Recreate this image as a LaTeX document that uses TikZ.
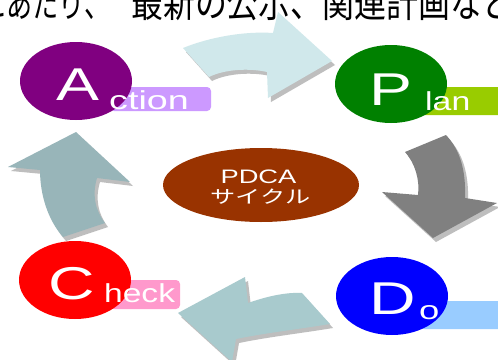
\documentclass[tikz,border=0pt]{standalone}
\usepackage{fontspec}
\usepackage{graphicx}
\setmainfont{Liberation Sans}
\newfontfamily\jpfont[Kerning=Off]{Noto Sans CJK JP}
\usetikzlibrary{shapes.geometric}
\definecolor{actfill}{HTML}{800080}
\definecolor{actbar}{HTML}{CC99FF}
\definecolor{planfill}{HTML}{008000}
\definecolor{planbar}{HTML}{99CC00}
\definecolor{dofill}{HTML}{0000FF}
\definecolor{dobar}{HTML}{99CCFF}
\definecolor{checkfill}{HTML}{FF0000}
\definecolor{checkbar}{HTML}{FF99CC}
\definecolor{centerfill}{HTML}{993300}
\definecolor{arrowtopc}{HTML}{D0E8EB}
\definecolor{arrowrightc}{HTML}{808080}
\definecolor{arrowbottomc}{HTML}{A8CACD}
\definecolor{arrowleftc}{HTML}{98B5B9}
\definecolor{shadowc}{HTML}{BEBEBE}
\newcommand\xwide[1]{\scalebox{1.4}[1]{#1}}
\newcommand\xs[2]{\scalebox{#1}[1]{#2}}
\tikzset{
  phase/.style={ellipse, inner sep=0pt, minimum width=112pt, minimum height=78pt},
  bigletter/.style={anchor=base, inner sep=0pt, text=white, font=\fontsize{46}{46}\selectfont},
  smallword/.style={anchor=base west, inner sep=0pt, text=white, font=\fontsize{26}{26}\selectfont},
  headtext/.style={anchor=base west, inner sep=0pt, text=black},
  labelbar/.style={rounded corners=4pt},
  arrowtop/.pic={\fill (183,48) .. controls (210,37) and (245,31) .. (273,33) -- (278,12) -- (332,61) -- (268,98) -- (267,72) .. controls (250,68) and (225,69) .. (209,77) -- cycle;},
  arrowright/.pic={\fill (405,152) -- (446,135) .. controls (460,150) and (466,170) .. (465,198) -- (497,203) -- (433,238) -- (382,192) -- (418,195) .. controls (420,180) and (415,163) .. (405,152) -- cycle;},
  arrowbottom/.pic={\fill (302,293) -- (330,324) .. controls (300,329) and (265,333) .. (236,339) -- (232,362) -- (178,313) -- (245,277) -- (248,303) .. controls (265,297) and (285,292) .. (302,293) -- cycle;},
  arrowleft/.pic={\fill (63,237) .. controls (48,220) and (40,195) .. (40,170) -- (8,167) -- (76,132) -- (130,182) -- (97,178) .. controls (92,195) and (95,210) .. (105,223) -- cycle;},
  arrowshadow/.style={fill=shadowc, shift={(3,4)}}
}
\begin{document}
\begin{tikzpicture}[x=1pt,y=-1pt]
\clip (0,0) rectangle (498,359);
\fill[white] (0,0) rectangle (498,359);
% heading text (cut at top, as in the source)
\node[headtext, font=\jpfont\fontsize{30}{30}\selectfont] (heading1) at (-20,17) {\scalebox{0.87}[1.25]{にあたり、}};
\node[headtext, font=\jpfont\fontsize{31}{31}\selectfont] (heading2) at (131,17) {\scalebox{1.03}[1.25]{最新の公示、関連計画などを}};
% arrows with shadows
\pic[arrowshadow] {arrowtop};
\pic[fill=arrowtopc] {arrowtop};
\pic[arrowshadow] {arrowright};
\pic[fill=arrowrightc] {arrowright};
\pic[arrowshadow] {arrowbottom};
\pic[fill=arrowbottomc] {arrowbottom};
\pic[arrowshadow] {arrowleft};
\pic[fill=arrowleftc] {arrowleft};
% label bars
\fill[actbar, labelbar] (110,87) rectangle (211,111);
\fill[planbar, labelbar] (420,87) rectangle (506,115);
\fill[dobar, labelbar] (420,301) rectangle (506,329);
\fill[checkbar, labelbar] (110,280) rectangle (180,309);
% phase ellipses
\node[phase, fill=actfill] (act) at (76,81) {};
\node[phase, fill=planfill] (plan) at (391,84) {};
\node[phase, fill=dofill] (do) at (392,296) {};
\node[phase, fill=checkfill] (check) at (75,280) {};
\node[ellipse, inner sep=0pt, fill=centerfill, minimum width=196pt, minimum height=74pt] (pdca) at (261,185) {};
% letters
\node[bigletter] (actA) at (77.5,100) {\xwide{A}};
\node[smallword] (actw) at (109,109) {\xs{1.45}{ction}};
\node[bigletter] (planP) at (391,105) {\xwide{P}};
\node[smallword] (planw) at (425,110) {\xs{1.3}{lan}};
\node[bigletter] (doD) at (393,314) {\xwide{D}};
\node[smallword] (dow) at (419,319) {\xwide{o}};
\node[bigletter] (checkC) at (72,299) {\xwide{C}};
\node[smallword] (checkw) at (104,302) {\xs{1.29}{heck}};
% center text
\node[anchor=base, inner sep=0pt, text=white, font=\fontsize{19.5}{20}\selectfont] (pdcat) at (258.5,183) {\xwide{PDCA}};
\node[anchor=base, inner sep=0pt, text=white, font=\jpfont\fontsize{18}{18}\selectfont] (cyclet) at (260.5,203) {\xwide{サイクル}};
\end{tikzpicture}
\end{document}
